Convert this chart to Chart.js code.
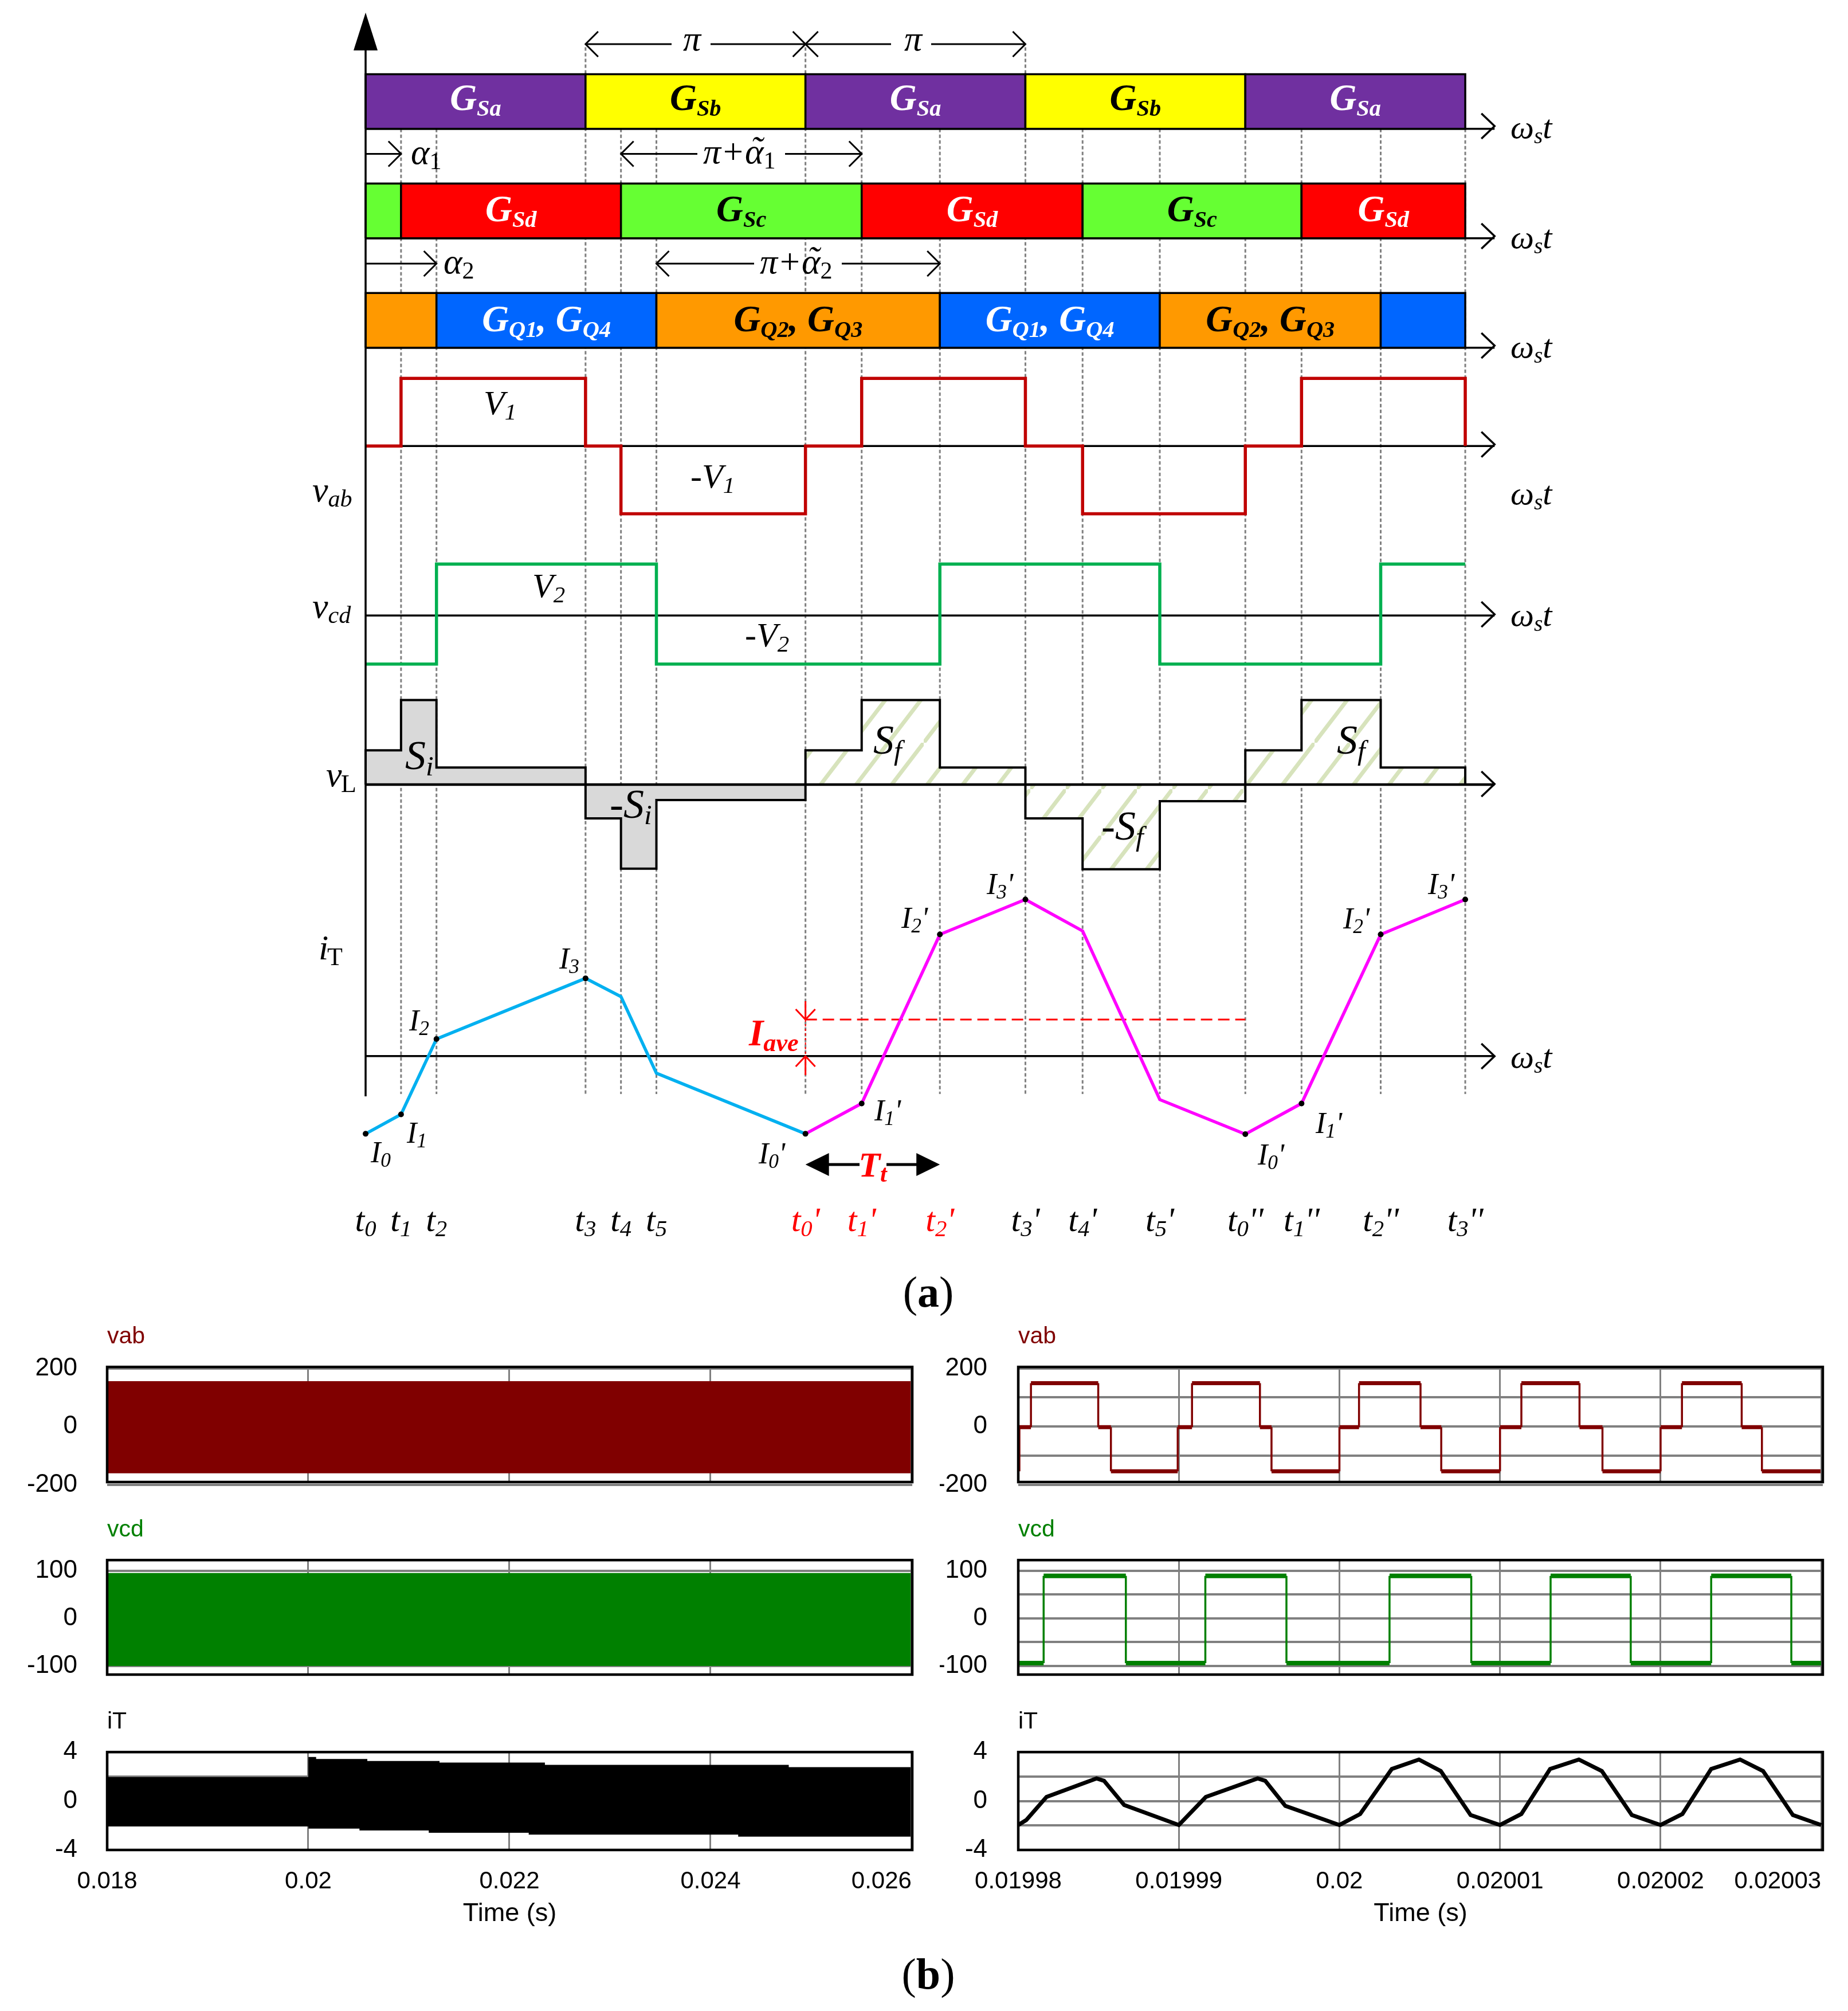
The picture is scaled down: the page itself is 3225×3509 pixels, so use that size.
<!DOCTYPE html>
<html>
<head>
<meta charset="utf-8">
<title>Gate signals and waveforms</title>
<script src="https://cdn.jsdelivr.net/npm/chart.js"></script>
<style>
body { margin: 0; background: #fff; }
canvas { position: absolute; }
</style>
</head>
<body>
<script>
// ---- part (a), everything in phase degrees, t0 = 0, t0' = 180 ----
const phaseAngles = [0, 14.5, 29, 90, 104.5, 119, 180, 203, 235, 270, 293.4, 325, 360, 383, 415.4, 450];
const timeLabels = ['t_{0}', 't_{1}', 't_{2}', 't_{3}', 't_{4}', 't_{5}', "t_{0}'", "t_{1}'", "t_{2}'", "t_{3}'", "t_{4}'", "t_{5}'", "t_{0}''", "t_{1}''", "t_{2}''", "t_{3}''"];
const timeLabelsRed = [6, 7, 8];
const guidesTall = [90, 180, 270];
const guidesShort = [14.5, 29, 104.5, 119, 203, 235, 293.4, 325, 360, 383, 415.4, 450];

const gateRow1Edges = [0, 90, 180, 270, 360, 450];
const gateRow1Names = ['G_{Sa}', 'G_{Sb}', 'G_{Sa}', 'G_{Sb}', 'G_{Sa}'];
const gateRow1Fill = ['#7030a0', '#ffff00', '#7030a0', '#ffff00', '#7030a0'];
const gateRow1Text = ['#fff', '#000', '#fff', '#000', '#fff'];

const gateRow2Edges = [0, 14.5, 104.5, 203, 293.4, 383, 450];
const gateRow2Names = ['', 'G_{Sd}', 'G_{Sc}', 'G_{Sd}', 'G_{Sc}', 'G_{Sd}'];
const gateRow2Fill = ['#66ff33', '#ff0000', '#66ff33', '#ff0000', '#66ff33', '#ff0000'];
const gateRow2Text = ['#000', '#fff', '#000', '#fff', '#000', '#fff'];

const gateRow3Edges = [0, 29, 119, 235, 325, 415.4, 450];
const gateRow3Names = ['', 'G_{Q1}, G_{Q4}', 'G_{Q2}, G_{Q3}', 'G_{Q1}, G_{Q4}', 'G_{Q2}, G_{Q3}', ''];
const gateRow3Fill = ['#ff9900', '#0066ff', '#ff9900', '#0066ff', '#ff9900', '#0066ff'];
const gateRow3Text = ['#000', '#fff', '#000', '#fff', '#000', '#fff'];

const vabAngles = [0, 14.5, 90, 104.5, 180, 203, 270, 293.4, 360, 383, 450, 450];
const vabLevels = [0, 150, 0, -150, 0, 150, 0, -150, 0, 150, 0];
const vcdAngles = [0, 29, 119, 235, 325, 415.4, 450];
const vcdLevels = [-85, 90, -85, 90, -85, 90];
const vLAngles = [0, 14.5, 29, 90, 104.5, 119, 180, 203, 235, 270, 293.4, 325, 360, 383, 415.4, 450];
const vLLevels = [60, 148, 30, -59, -147, -27, 60, 148, 30, -59, -148, -29, 60, 148, 30];

const iFirstAngles = [0, 14.5, 29, 90, 104.5, 119, 180];
const iFirstValues = [-2, -1.5, 0.44, 2, 1.53, -0.44, -2];
const iSecondAngles = [180, 203, 235, 270, 293.4, 325, 360, 383, 415.4, 450];
const iSecondValues = [-2, -1.22, 3.13, 4.03, 3.22, -1.12, -2.01, -1.22, 3.13, 4.03];
const iDotAngles = [0, 14.5, 29, 90, 180, 203, 235, 270, 360, 383, 415.4, 450];
const iDotValues = [-2, -1.5, 0.44, 2, -2, -1.22, 3.13, 4.03, -2.01, -1.22, 3.13, 4.03];
const iAverage = 0.94;

// ---- part (b), simulation traces ----
const wideTicks = [0.018, 0.02, 0.022, 0.024, 0.026];
const narrowTicks = [0.01998, 0.01999, 0.02, 0.02001, 0.02002, 0.02003];

const vabWideTimes = [0.018, 0.02599];
const vabWideUpper = [156];
const vabWideLower = [-161];
const vcdWideTimes = [0.018, 0.02599];
const vcdWideUpper = [95];
const vcdWideLower = [-100];
const iWideUpperTimes = [0.018, 0.02, 0.020078, 0.020587, 0.021305, 0.022353, 0.024778, 0.02599];
const iWideUpper = [1.96, 3.6, 3.44, 3.27, 3.14, 2.95, 2.77];
const iWideLowerTimes = [0.018, 0.02, 0.020509, 0.021198, 0.022192, 0.024275, 0.02599];
const iWideLower = [-2.08, -2.26, -2.41, -2.59, -2.75, -2.91];

const vabNarrowTimes = [0.01998, 0.01998007, 0.01998079, 0.01998498, 0.01998577, 0.01998993, 0.01999082, 0.01999505, 0.01999577, 0.02, 0.02000122, 0.02000505, 0.02000634, 0.02001, 0.02001133, 0.02001495, 0.02001638, 0.02002, 0.02002133, 0.02002505, 0.02002631, 0.02002996];
const vabNarrowLevels = [-154, -2, 149, -2, -154, -2, 149, -2, -154, -2, 149, -2, -154, -2, 149, -2, -154, -2, 149, -2, -154];
const vcdNarrowTimes = [0.01998, 0.01998158, 0.0199867, 0.01999165, 0.0199967, 0.02000312, 0.02000821, 0.02001315, 0.02001814, 0.02002315, 0.02002814, 0.02003];
const vcdNarrowLevels = [-94, 89, -94, 89, -94, 89, -94, 89, -94, 89, -94];
const iNarrowTimes = [0.01998, 0.0199805, 0.01998176, 0.019984875, 0.01998534, 0.019986595, 0.01999, 0.01999168, 0.01999491, 0.01999538, 0.01999663, 0.02, 0.02000129, 0.02000326, 0.02000495, 0.02000631, 0.02000817, 0.02001, 0.02001133, 0.02001312, 0.02001491, 0.02001634, 0.02001821, 0.02002, 0.02002136, 0.02002315, 0.02002495, 0.02002638, 0.02002824, 0.02003];
const iNarrowValues = [-1.96, -1.55, 0.33, 1.85, 1.65, -0.33, -1.96, 0.33, 1.85, 1.65, -0.4, -1.96, -1.06, 2.62, 3.39, 2.45, -1.15, -1.96, -1.06, 2.62, 3.39, 2.45, -1.15, -1.96, -1.06, 2.62, 3.39, 2.45, -1.15, -1.96];

// ---- helpers ----
const pageW = 3225, pageH = 3509;
const SERIF = '"Liberation Serif"';

function stepPoints(edges, levels) {
    const pts = [];
    levels.forEach((v, i) => {
        pts.push({ x: edges[i], y: v }, { x: edges[i + 1], y: v });
    });
    return pts;
}

function zipPoints(xs, ys) {
    return xs.map((x, i) => ({ x: x, y: ys[i] }));
}

function addCanvas(left, top, w, h) {
    const c = document.createElement('canvas');
    c.width = w;
    c.height = h;
    c.style.left = left + 'px';
    c.style.top = top + 'px';
    c.style.width = w + 'px';
    c.style.height = h + 'px';
    document.body.appendChild(c);
    return c;
}

// rich text, 'G_{Sa}' means main G with subscript Sa
function parseRuns(text) {
    const runs = [];
    text.split(/(_\{[^}]*\})/).forEach(p => {
        if (!p) return;
        if (p.startsWith('_{')) runs.push({ t: p.slice(2, -1), sub: true });
        else runs.push({ t: p, sub: false });
    });
    return runs;
}

function drawRich(ctx, text, x, y, o) {
    const size = o.size || 60;
    const subScale = o.subScale || 0.68;
    const runs = parseRuns(text);
    const fontFor = r => {
        const upright = r.sub ? o.subUp : o.mainUp;
        const px = r.sub ? size * subScale : size;
        return (upright ? '' : 'italic ') + (o.bold ? 'bold ' : '') + px + 'px ' + SERIF;
    };
    let width = 0;
    runs.forEach(r => {
        ctx.font = fontFor(r);
        r.w = ctx.measureText(r.t).width;
        width += r.w;
    });
    let cx = o.center ? x - width / 2 : x;
    ctx.fillStyle = o.color || '#000';
    ctx.textAlign = 'left';
    ctx.textBaseline = 'alphabetic';
    runs.forEach(r => {
        ctx.font = fontFor(r);
        ctx.fillText(r.t, cx, r.sub ? y + size * 0.15 : y);
        cx += r.w;
    });
}

// pi + alpha-tilde, the tilde is placed by hand over the alpha
function drawPiAlpha(ctx, sub, x, y) {
    const size = 62;
    drawRich(ctx, 'π+α_{' + sub + '}', x, y, { size: size, subUp: true });
    ctx.font = 'italic ' + size + 'px ' + SERIF;
    const lead = ctx.measureText('π+').width;
    const alpha = ctx.measureText('α').width;
    const tilde = ctx.measureText('˜').width;
    ctx.fillText('˜', x + lead + (alpha - tilde) / 2 + 4, y - 4);
}

// ---- part (a) chart ----
const xPerDeg = 770 / 180, xZero = 635;

function hiddenY(zeroPx, pxPerUnit) {
    return { type: 'linear', display: false, min: (zeroPx - pageH) / pxPerUnit, max: zeroPx / pxPerUnit };
}

const arrowEnd = 462;
const schemeSets = [];
function addSet(ds) {
    ds.order = 1000 - schemeSets.length;
    ds.pointRadius = ds.pointRadius || 0;
    ds.tension = 0;
    ds.borderJoinStyle = 'miter';
    schemeSets.push(ds);
}

guidesTall.forEach(a => addSet({
    yAxisID: 'yGate', data: [{ x: a, y: 1.49 }, { x: a, y: -17.64 }],
    borderColor: '#808080', borderWidth: 3, borderDash: [6, 4]
}));
guidesShort.forEach(a => addSet({
    yAxisID: 'yGate', data: [{ x: a, y: 0 }, { x: a, y: -17.64 }],
    borderColor: '#808080', borderWidth: 3, borderDash: [6, 4]
}));

const gateRows = [
    { base: 0, edges: gateRow1Edges, names: gateRow1Names, fill: gateRow1Fill, text: gateRow1Text, baseline: 192 },
    { base: -2, edges: gateRow2Edges, names: gateRow2Names, fill: gateRow2Fill, text: gateRow2Text, baseline: 386 },
    { base: -4, edges: gateRow3Edges, names: gateRow3Names, fill: gateRow3Fill, text: gateRow3Text, baseline: 578 }
];
gateRows.forEach(row => {
    row.fill.forEach((col, i) => addSet({
        yAxisID: 'yGate',
        data: [
            { x: row.edges[i], y: row.base }, { x: row.edges[i + 1], y: row.base },
            { x: row.edges[i + 1], y: row.base + 1 }, { x: row.edges[i], y: row.base + 1 },
            { x: row.edges[i], y: row.base }
        ],
        borderColor: '#000', borderWidth: 3.5, backgroundColor: col, fill: 'shape'
    }));
    addSet({
        yAxisID: 'yGate', data: [{ x: 0, y: row.base }, { x: arrowEnd, y: row.base }],
        borderColor: '#000', borderWidth: 3.5
    });
});

addSet({ yAxisID: 'yVab', data: [{ x: 0, y: 0 }, { x: arrowEnd, y: 0 }], borderColor: '#000', borderWidth: 3.5 });
addSet({ yAxisID: 'yVab', data: stepPoints(vabAngles, vabLevels), borderColor: '#c00000', borderWidth: 5.5 });
addSet({ yAxisID: 'yVcd', data: [{ x: 0, y: 0 }, { x: arrowEnd, y: 0 }], borderColor: '#000', borderWidth: 3.5 });
addSet({ yAxisID: 'yVcd', data: stepPoints(vcdAngles, vcdLevels), borderColor: '#00b050', borderWidth: 5.5 });

// diagonal hatch of the second half of vL
function hatchPattern() {
    const tile = document.createElement('canvas');
    tile.width = 62;
    tile.height = 81;
    const t = tile.getContext('2d');
    t.fillStyle = '#fff';
    t.fillRect(0, 0, 62, 81);
    t.strokeStyle = '#d7e3bc';
    t.lineWidth = 7;
    t.beginPath();
    t.moveTo(-6.2, 89.1);
    t.lineTo(68.2, -8.1);
    t.stroke();
    return t.createPattern(tile, 'repeat');
}
const hatch = hatchPattern();

// split vL in its positive and negative lobes
const lobes = [];
let lobeStart = 0;
for (let i = 1; i <= vLLevels.length; i++) {
    if (i === vLLevels.length || Math.sign(vLLevels[i]) !== Math.sign(vLLevels[lobeStart])) {
        lobes.push([lobeStart, i]);
        lobeStart = i;
    }
}
lobes.forEach((span, n) => {
    const a = span[0], b = span[1];
    const pts = stepPoints(vLAngles.slice(a, b + 1), vLLevels.slice(a, b));
    pts.unshift({ x: vLAngles[a], y: 0 });
    pts.push({ x: vLAngles[b], y: 0 });
    addSet({
        yAxisID: 'yVL', data: pts, borderColor: '#000', borderWidth: 4,
        backgroundColor: n < 2 ? '#d9d9d9' : hatch, fill: 'shape'
    });
});
addSet({ yAxisID: 'yVL', data: [{ x: 0, y: 0 }, { x: arrowEnd, y: 0 }], borderColor: '#000', borderWidth: 4.5 });

addSet({ yAxisID: 'yIT', data: [{ x: 0, y: 0 }, { x: arrowEnd, y: 0 }], borderColor: '#000', borderWidth: 3.5 });
addSet({ yAxisID: 'yIT', data: [{ x: 180, y: iAverage }, { x: 360, y: iAverage }], borderColor: '#ff0000', borderWidth: 3, borderDash: [20, 10] });
addSet({ yAxisID: 'yIT', data: zipPoints(iFirstAngles, iFirstValues), borderColor: '#00b0f0', borderWidth: 5.5 });
addSet({ yAxisID: 'yIT', data: zipPoints(iSecondAngles, iSecondValues), borderColor: '#ff00ff', borderWidth: 5.5 });
addSet({ yAxisID: 'yIT', data: zipPoints(iDotAngles, iDotValues), showLine: false, pointRadius: 5, pointBackgroundColor: '#000', pointBorderWidth: 0 });

function chevron(ctx, tx, ty, dx, dy, len, half) {
    // open arrow head with the tip at tx,ty pointing along dx,dy
    ctx.beginPath();
    ctx.moveTo(tx - dx * len - dy * half, ty - dy * len - dx * half);
    ctx.lineTo(tx, ty);
    ctx.lineTo(tx - dx * len + dy * half, ty - dy * len + dx * half);
    ctx.stroke();
}

function hLine(ctx, x1, x2, y) {
    ctx.beginPath();
    ctx.moveTo(x1, y);
    ctx.lineTo(x2, y);
    ctx.stroke();
}

const mathLabels = [
    ['V_{1}', 844, 723], ['-V_{1}', 1205, 851], ['V_{2}', 929, 1042], ['-V_{2}', 1300, 1128],
    ['S_{i}', 707, 1342, 72], ['-S_{i}', 1064, 1427, 72], ['S_{f}', 1524, 1315, 72], ['S_{f}', 2333, 1315, 72], ['-S_{f}', 1922, 1465, 72],
    ['I_{0}', 647, 2028, 52], ['I_{1}', 710, 1994, 52], ['I_{2}', 714, 1798, 52], ['I_{3}', 976, 1690, 52],
    ["I_{0}'", 1324, 2030, 52], ["I_{1}'", 1526, 1955, 52], ["I_{2}'", 1573, 1619, 52], ["I_{3}'", 1722, 1560, 52],
    ["I_{0}'", 2195, 2032, 52], ["I_{1}'", 2296, 1977, 52], ["I_{2}'", 2344, 1620, 52], ["I_{3}'", 2492, 1560, 52],
    ['v_{ab}', 545, 875, 62], ['v_{cd}', 545, 1078, 62]
];
const omegaBaselines = [241, 433, 624, 880, 1092, 1863];

const schemePlugin = {
    id: 'scheme',
    afterDatasetsDraw(chart) {
        const ctx = chart.ctx;
        const px = d => chart.scales.x.getPixelForValue(d);
        ctx.save();
        ctx.strokeStyle = '#000';
        ctx.fillStyle = '#000';
        ctx.lineWidth = 3.5;
        ctx.lineJoin = 'miter';

        // vertical axis
        ctx.beginPath();
        ctx.moveTo(px(0), 60);
        ctx.lineTo(px(0), 1913);
        ctx.stroke();
        ctx.beginPath();
        ctx.moveTo(px(0), 22);
        ctx.lineTo(px(0) - 21, 88);
        ctx.lineTo(px(0) + 21, 88);
        ctx.closePath();
        ctx.fill();

        // heads of the horizontal axes
        [220, 412, 603, 775.5, 1072, 1368, 1843].forEach(y => chevron(ctx, px(arrowEnd), y, 1, 0, 23, 22));

        // pi and alpha spans
        ctx.lineWidth = 3;
        hLine(ctx, px(90), 1172, 77);
        hLine(ctx, 1240, px(180), 77);
        chevron(ctx, px(90), 77, -1, 0, 22, 22);
        chevron(ctx, px(180), 77, 1, 0, 22, 22);
        hLine(ctx, px(180), 1555, 77);
        hLine(ctx, 1625, px(270), 77);
        chevron(ctx, px(180), 77, -1, 0, 22, 22);
        chevron(ctx, px(270), 77, 1, 0, 22, 22);

        hLine(ctx, px(0), px(14.5), 268.5);
        chevron(ctx, px(14.5), 268.5, 1, 0, 22, 22);
        hLine(ctx, px(104.5), 1217, 268.5);
        hLine(ctx, 1370, px(203), 268.5);
        chevron(ctx, px(104.5), 268.5, -1, 0, 22, 22);
        chevron(ctx, px(203), 268.5, 1, 0, 22, 22);

        hLine(ctx, px(0), px(29), 460);
        chevron(ctx, px(29), 460, 1, 0, 22, 22);
        hLine(ctx, px(119), 1316, 460);
        hLine(ctx, 1469, px(235), 460);
        chevron(ctx, px(119), 460, -1, 0, 22, 22);
        chevron(ctx, px(235), 460, 1, 0, 22, 22);

        drawRich(ctx, 'π', 1192, 88, { size: 62 });
        drawRich(ctx, 'π', 1578, 88, { size: 62 });
        drawRich(ctx, 'α_{1}', 717, 286, { size: 62, subUp: true });
        drawPiAlpha(ctx, '1', 1227, 285);
        drawRich(ctx, 'α_{2}', 774, 477, { size: 62, subUp: true });
        drawPiAlpha(ctx, '2', 1326, 477);

        // gate names in the middle of their segment
        gateRows.forEach(row => {
            row.names.forEach((name, i) => {
                if (!name) return;
                const mid = px((row.edges[i] + row.edges[i + 1]) / 2);
                drawRich(ctx, name, mid, row.baseline, { size: 65, subScale: 0.62, bold: true, center: true, color: row.text[i] });
            });
        });

        omegaBaselines.forEach(y => drawRich(ctx, 'ω_{s}t', 2636, y, { size: 58 }));
        mathLabels.forEach(l => drawRich(ctx, l[0], l[1], l[2], { size: l[3] || 60 }));
        drawRich(ctx, 'v', 569, 1372, { size: 62 });
        drawRich(ctx, 'L', 595, 1382, { size: 44, mainUp: true });
        drawRich(ctx, 'i', 556, 1674, { size: 62 });
        drawRich(ctx, 'T', 571, 1684, { size: 44, mainUp: true });

        // I ave marker
        ctx.strokeStyle = '#ff0000';
        ctx.fillStyle = '#ff0000';
        ctx.lineWidth = 3;
        ctx.beginPath();
        ctx.moveTo(px(180), 1747);
        ctx.lineTo(px(180), 1779);
        ctx.moveTo(px(180), 1843);
        ctx.lineTo(px(180), 1876);
        ctx.stroke();
        chevron(ctx, px(180), 1779, 0, 1, 18, 17);
        chevron(ctx, px(180), 1843, 0, -1, 18, 17);
        ctx.setLineDash([4, 4]);
        ctx.lineWidth = 2;
        ctx.beginPath();
        ctx.moveTo(px(180), 1779);
        ctx.lineTo(px(180), 1843);
        ctx.stroke();
        ctx.setLineDash([]);
        drawRich(ctx, 'I_{ave}', 1307, 1824, { size: 65, bold: true, color: '#ff0000' });

        // T t span
        ctx.strokeStyle = '#000';
        ctx.fillStyle = '#000';
        ctx.lineWidth = 5;
        hLine(ctx, px(180) + 30, 1500, 2032);
        hLine(ctx, 1547, px(235) - 30, 2032);
        ctx.beginPath();
        ctx.moveTo(px(180), 2032);
        ctx.lineTo(px(180) + 41, 2012);
        ctx.lineTo(px(180) + 41, 2052);
        ctx.closePath();
        ctx.moveTo(px(235), 2032);
        ctx.lineTo(px(235) - 41, 2012);
        ctx.lineTo(px(235) - 41, 2052);
        ctx.closePath();
        ctx.fill();
        drawRich(ctx, 'T_{t}', 1523, 2053, { size: 62, bold: true, center: true, color: '#ff0000' });

        timeLabels.forEach((t, i) => {
            drawRich(ctx, t, px(phaseAngles[i]), 2148, {
                size: 60, center: true, color: timeLabelsRed.includes(i) ? '#ff0000' : '#000'
            });
        });

        // captions
        ctx.fillStyle = '#000';
        ctx.textBaseline = 'alphabetic';
        ctx.textAlign = 'left';
        ['(a)', '(b)'].forEach((cap, i) => {
            const y = i === 0 ? 2280 : 3470;
            ctx.font = '76px ' + SERIF;
            const wOpen = ctx.measureText('(').width;
            ctx.font = 'bold 76px ' + SERIF;
            const wMid = ctx.measureText(cap[1]).width;
            const x0 = 1620 - (wOpen * 2 + wMid) / 2;
            ctx.font = '76px ' + SERIF;
            ctx.fillText('(', x0, y);
            ctx.fillText(')', x0 + wOpen + wMid, y);
            ctx.font = 'bold 76px ' + SERIF;
            ctx.fillText(cap[1], x0 + wOpen, y);
        });
        ctx.restore();
    }
};

new Chart(addCanvas(0, 0, pageW, pageH), {
    type: 'line',
    data: { datasets: schemeSets },
    plugins: [schemePlugin],
    options: {
        responsive: false,
        animation: false,
        devicePixelRatio: 1,
        layout: { padding: 0 },
        plugins: { legend: { display: false }, tooltip: { enabled: false } },
        scales: {
            x: { type: 'linear', display: false, min: -xZero / xPerDeg, max: (pageW - xZero) / xPerDeg },
            yGate: hiddenY(220.5, 95.75),
            yVab: hiddenY(775.5, 0.79),
            yVcd: hiddenY(1072, 1),
            yVL: hiddenY(1368, 1),
            yIT: hiddenY(1843, 68)
        }
    }
});

// ---- part (b) charts ----
const framePlugin = {
    id: 'frame',
    beforeDraw(chart) {
        // the last time label sits inside the frame
        const items = chart.scales.x.getLabelItems();
        if (items.length) items[items.length - 1].options.textAlign = 'right';
    },
    afterDraw(chart) {
        const a = chart.chartArea, ctx = chart.ctx;
        ctx.save();
        ctx.strokeStyle = '#000';
        ctx.lineWidth = 4.5;
        ctx.strokeRect(a.left, a.top, a.right - a.left, a.bottom - a.top);
        ctx.restore();
    }
};

const columns = [
    { canvasLeft: 0, canvasW: 1640, plotLeft: 187, plotRight: 1592, xMin: 0.018, xMax: 0.026006, xTicks: wideTicks, yPad: 52 },
    { canvasLeft: 1640, canvasW: 1585, plotLeft: 1777, plotRight: 3181, xMin: 0.01998, xMax: 0.0200301, xTicks: narrowTicks, yPad: 54 }
];
const scopeRows = [
    { title: 'vab', color: '#800000', top: 2385, bottom: 2586, yMin: -191, yMax: 205, yTicks: [-200, -100, 0, 100, 200], yShown: [-200, 0, 200] },
    { title: 'vcd', color: '#008000', top: 2722, bottom: 2922, yMin: -118, yMax: 122, yTicks: [-100, -50, 0, 50, 100], yShown: [-100, 0, 100] },
    { title: 'iT', color: '#000000', top: 3057, bottom: 3228, yMin: -4, yMax: 4, yTicks: [-2, 0, 2, 4, -4], yShown: [-4, 0, 4] }
];

function bandSet(upperPts, lowerPts, color) {
    return { data: upperPts.concat(lowerPts.reverse()), borderWidth: 0, borderColor: color, backgroundColor: color, fill: 'shape', pointRadius: 0, tension: 0 };
}
function traceSet(pts, color, flatW, steepW) {
    return {
        data: pts, borderColor: color, borderWidth: steepW, pointRadius: 0, tension: 0, borderJoinStyle: 'miter',
        segment: { borderWidth: c => (c.p0.parsed.y === c.p1.parsed.y ? flatW : steepW) }
    };
}

const scopeData = [
    [
        bandSet(stepPoints(vabWideTimes, vabWideUpper), stepPoints(vabWideTimes, vabWideLower), '#800000'),
        traceSet(stepPoints(vabNarrowTimes, vabNarrowLevels), '#800000', 7, 3.5)
    ],
    [
        bandSet(stepPoints(vcdWideTimes, vcdWideUpper), stepPoints(vcdWideTimes, vcdWideLower), '#008000'),
        traceSet(stepPoints(vcdNarrowTimes, vcdNarrowLevels), '#008000', 8, 3.5)
    ],
    [
        bandSet(stepPoints(iWideUpperTimes, iWideUpper), stepPoints(iWideLowerTimes, iWideLower), '#000000'),
        traceSet(zipPoints(iNarrowTimes, iNarrowValues), '#000000', 7, 7)
    ]
];

scopeRows.forEach((row, r) => {
    columns.forEach((col, c) => {
        const showX = r === 2;
        const headH = 77;
        const footH = showX ? 139 : 32;
        const plotH = row.bottom - row.top;
        const canvas = addCanvas(col.canvasLeft, row.top - headH, col.canvasW, headH + plotH + footH);
        const tickFont = { family: 'Liberation Sans', size: 42 };
        new Chart(canvas, {
            type: 'line',
            data: { datasets: [scopeData[r][c]] },
            plugins: [framePlugin],
            options: {
                responsive: false,
                animation: false,
                devicePixelRatio: 1,
                layout: { padding: { left: 0, top: 0, bottom: 0, right: col.canvasLeft + col.canvasW - col.plotRight } },
                plugins: {
                    legend: { display: false },
                    tooltip: { enabled: false },
                    title: {
                        display: true, text: row.title, align: 'start', fullSize: false, color: row.color,
                        font: { family: 'Liberation Sans', size: 41, weight: 'normal', lineHeight: 1.2 },
                        padding: { top: 0, bottom: 28 }
                    }
                },
                scales: {
                    x: {
                        type: 'linear', min: col.xMin, max: col.xMax,
                        afterBuildTicks: s => { s.ticks = col.xTicks.map(v => ({ value: v })); },
                        afterFit: s => { s.height = footH; s.paddingLeft = 0; s.paddingRight = 0; },
                        ticks: { display: showX, autoSkip: false, maxRotation: 0, padding: 30, color: '#000', font: tickFont, callback: v => String(v) },
                        grid: { color: '#808080', lineWidth: 3, drawTicks: false },
                        border: { display: false },
                        title: { display: showX, text: 'Time (s)', color: '#000', font: { family: 'Liberation Sans', size: 45 }, padding: { top: 6, bottom: 0 } }
                    },
                    y: {
                        type: 'linear', min: row.yMin, max: row.yMax,
                        afterBuildTicks: s => { s.ticks = row.yTicks.map(v => ({ value: v })); },
                        afterFit: s => { s.width = col.plotLeft - col.canvasLeft; s.paddingTop = 0; s.paddingBottom = 0; },
                        ticks: { autoSkip: false, padding: col.yPad, color: '#000', font: { family: 'Liberation Sans', size: 44 }, callback: v => (row.yShown.includes(v) ? String(v) : '') },
                        grid: {
                            color: g => (g.tick && Math.abs(g.tick.value) > row.yMax ? 'transparent' : '#808080'),
                            lineWidth: 4, drawTicks: false
                        },
                        border: { display: false }
                    }
                }
            }
        });
    });
});
</script>
</body>
</html>
